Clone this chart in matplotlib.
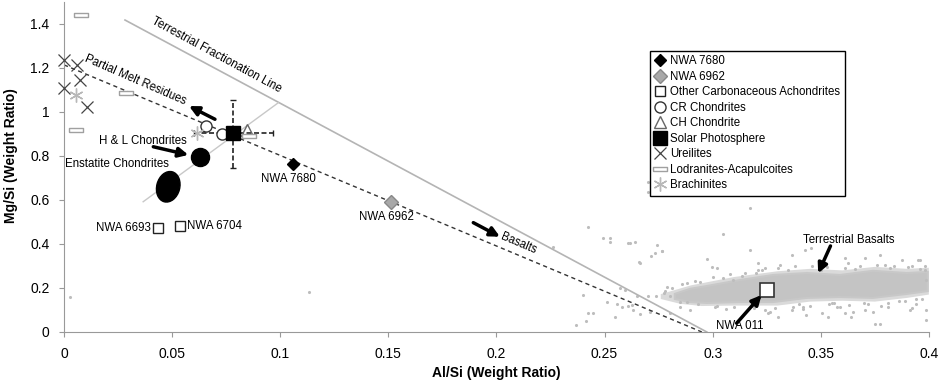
# Mg/Si vs Al/Si diagram
import matplotlib
matplotlib.use('Agg')
import matplotlib.pyplot as plt, numpy as np
import matplotlib.transforms as mtransforms
from matplotlib.patches import Ellipse, Polygon
from matplotlib.ticker import FuncFormatter

plt.rcParams['font.family'] = ['Liberation Sans', 'DejaVu Sans']

# Sample points (Al/Si, Mg/Si)
nwa7680_x, nwa7680_y = [0.106], [0.763]
nwa6962_x, nwa6962_y = [0.151], [0.593]
carb_x, carb_y = [0.0436, 0.0536], [0.471, 0.483]
nwa011_x, nwa011_y = [0.3252], [0.191]
cr_x, cr_y = [0.0657, 0.0729], [0.938, 0.899]
ch_x, ch_y = [0.0848], [0.918]
solar_x, solar_y = [0.0783], [0.906]
solar_xerr = 0.0183
solar_yerr = [[0.162], [0.149]]
ureil_x = [0.0, 0.0059, 0.0074, 0.0, 0.0108]
ureil_y = [1.236, 1.214, 1.145, 1.108, 1.021]
lodr_x = [0.0079, 0.0287, 0.0055, 0.0855]
lodr_y = [1.441, 1.085, 0.918, 0.891]
brach_x, brach_y = [0.0614, 0.0055], [0.903, 1.077]
hl_x, hl_y = [0.0629], [0.797]
enst_x, enst_y = 0.0482, 0.660

# Reference lines
terr_line_x, terr_line_y = [0.0282, 0.2973], [1.418, 0.0]
melt_line_x, melt_line_y = [0.0, 0.295], [1.214, 0.0]
chond_line_x, chond_line_y = [0.0366, 0.0991], [0.592, 1.042]

# Terrestrial basalts: dense core outline, its fainter halo, and scattered points
basalt_core_x = [0.2825, 0.2895, 0.2973, 0.3126, 0.3279, 0.3436, 0.3588, 0.3741, 0.3898, 0.3995,
                 0.3995, 0.3898, 0.3741, 0.3588, 0.3436, 0.3279, 0.3126, 0.2973, 0.2895, 0.2825]
basalt_core_y = [0.173, 0.196, 0.209, 0.236, 0.259, 0.268, 0.259, 0.278, 0.268, 0.273,
                 0.186, 0.173, 0.155, 0.159, 0.155, 0.136, 0.136, 0.132, 0.136, 0.150]
basalt_halo_x = [0.2760, 0.2900, 0.3100, 0.3300, 0.3450, 0.3600, 0.3750, 0.3900, 0.4000,
                 0.4000, 0.3900, 0.3750, 0.3600, 0.3450, 0.3300, 0.3100, 0.2950, 0.2850, 0.2760]
basalt_halo_y = [0.172, 0.212, 0.250, 0.276, 0.287, 0.280, 0.296, 0.287, 0.292,
                 0.170, 0.155, 0.138, 0.142, 0.138, 0.120, 0.120, 0.118, 0.128, 0.150]
basalt_x = [0.2425, 0.2491, 0.2525, 0.2525, 0.2617, 0.2640, 0.2744, 0.2764, 0.2713, 0.2660,
            0.2972, 0.2995, 0.3018, 0.3049, 0.2571, 0.2594, 0.2401, 0.2648, 0.2702, 0.2775,
            0.2802, 0.2510, 0.2559, 0.2610, 0.2633, 0.2664, 0.2425, 0.2448, 0.2548, 0.2414,
            0.2368, 0.2802, 0.2895, 0.2880, 0.2849, 0.3172, 0.3134, 0.3095, 0.3172, 0.3427,
            0.3457, 0.3365, 0.3612, 0.3627, 0.3704, 0.3874, 0.3951, 0.3904, 0.3797, 0.3311,
            0.3241, 0.3211, 0.3981, 0.3989, 0.3365, 0.3419, 0.3550, 0.3612, 0.3704, 0.3750,
            0.3773, 0.3812, 0.3920, 0.3989, 0.3257, 0.3303, 0.3504, 0.3535, 0.3642, 0.2609,
            0.2733, 0.2764, 0.2664, 0.3211, 0.3773, 0.3958, 0.3265, 0.3434, 0.3573, 0.3650,
            0.3743, 0.3912, 0.3989, 0.2579, 0.2625, 0.2710, 0.2700, 0.2700, 0.0028, 0.1134,
            0.2263, 0.2790, 0.2860, 0.2940, 0.3050, 0.3200, 0.3350, 0.3500, 0.3660, 0.3820,
            0.3960, 0.3020, 0.3180, 0.3400, 0.3560, 0.3700, 0.3860, 0.3940,
            0.2810, 0.2880, 0.2920, 0.3000, 0.3080, 0.3150, 0.3230, 0.3300, 0.3380, 0.3460,
            0.3530, 0.3610, 0.3680, 0.3760, 0.3840, 0.3920, 0.3980, 0.2850, 0.2930, 0.3010,
            0.3100, 0.3190, 0.3290, 0.3370, 0.3450, 0.3540, 0.3630, 0.3720, 0.3810, 0.3890,
            0.3970, 0.2780, 0.2740, 0.3060, 0.3240, 0.3420, 0.3590, 0.3780, 0.3940]
basalt_y = [0.476, 0.426, 0.429, 0.408, 0.403, 0.410, 0.395, 0.370, 0.345, 0.317,
            0.330, 0.294, 0.290, 0.445, 0.199, 0.191, 0.168, 0.164, 0.164, 0.179,
            0.164, 0.138, 0.127, 0.118, 0.100, 0.082, 0.085, 0.085, 0.070, 0.050,
            0.032, 0.085, 0.100, 0.138, 0.112, 0.373, 0.255, 0.236, 0.562, 0.373,
            0.380, 0.350, 0.335, 0.312, 0.335, 0.327, 0.327, 0.297, 0.305, 0.305,
            0.290, 0.282, 0.282, 0.236, 0.100, 0.115, 0.130, 0.085, 0.100, 0.036,
            0.036, 0.115, 0.108, 0.100, 0.085, 0.070, 0.085, 0.070, 0.070, 0.403,
            0.358, 0.370, 0.312, 0.312, 0.350, 0.327, 0.092, 0.077, 0.115, 0.092,
            0.092, 0.100, 0.055, 0.115, 0.123, 0.092, 0.683, 0.638, 0.160, 0.183,
            0.385, 0.205, 0.218, 0.225, 0.245, 0.270, 0.282, 0.280, 0.285, 0.290,
            0.288, 0.120, 0.118, 0.128, 0.132, 0.130, 0.140, 0.150,
            0.198, 0.222, 0.232, 0.248, 0.262, 0.268, 0.280, 0.290, 0.298, 0.300,
            0.296, 0.292, 0.300, 0.306, 0.302, 0.300, 0.298, 0.138, 0.125, 0.115,
            0.112, 0.110, 0.108, 0.112, 0.120, 0.125, 0.124, 0.128, 0.134, 0.142,
            0.150, 0.185, 0.165, 0.105, 0.098, 0.105, 0.112, 0.118, 0.128]

fig = plt.figure(figsize=(9.43, 3.83), dpi=100)
ax = fig.add_axes([0.0679, 0.1332, 0.9171, 0.8616])
ax.set_xlim(0, 0.4)
ax.set_ylim(0, 1.5)

# Basalt cloud
ax.add_patch(Polygon(np.column_stack([basalt_halo_x, basalt_halo_y]), closed=True,
                     facecolor='#dadada', edgecolor='none', zorder=1))
ax.add_patch(Polygon(np.column_stack([basalt_core_x, basalt_core_y]), closed=True,
                     facecolor='#c4c4c4', edgecolor='#c8c8c8', lw=1.5, zorder=1))
ax.scatter(basalt_x, basalt_y, s=5, color='#bdbdbd', lw=0, zorder=1)

# Lines
ax.plot(terr_line_x, terr_line_y, color='#b4b4b4', lw=1.2, zorder=2)
ax.plot(melt_line_x, melt_line_y, color='#333333', lw=1, ls=(0, (3, 2.5)), zorder=2)
ax.plot(chond_line_x, chond_line_y, color='#c8c8c8', lw=1, zorder=2)

# Error bars on solar photosphere
eb = ax.errorbar(solar_x, solar_y, xerr=solar_xerr, yerr=solar_yerr, fmt='none',
                 ecolor='#222222', elinewidth=1.2, capsize=2.5, capthick=1, zorder=3)
for lc in eb[2]:
    lc.set_linestyle((0, (3, 1.5)))

# Enstatite chondrites ellipse (drawn in inches about a data point)
tr = fig.dpi_scale_trans + mtransforms.ScaledTranslation(enst_x, enst_y, ax.transData)
ax.add_patch(Ellipse((0, 0), 0.23, 0.31, angle=-15, transform=tr, color='black', zorder=4))
ax.plot(hl_x, hl_y, 'o', color='black', ms=13, zorder=4)

# Markers
lodr_marker = [(-1, -0.28), (1, -0.28), (1, 0.28), (-1, 0.28), (-1, -0.28)]
ax.plot(nwa7680_x, nwa7680_y, 'D', color='black', ms=6.5, ls='none', label='NWA 7680', zorder=5)
ax.plot(nwa6962_x, nwa6962_y, 'D', mfc='#a8a8a8', mec='#888888', ms=7.5, ls='none', label='NWA 6962', zorder=5)
ax.plot(carb_x, carb_y, 's', mfc='white', mec='#222222', ms=7.5, mew=1, ls='none',
        label='Other Carbonaceous Achondrites', zorder=5)
ax.plot(cr_x, cr_y, 'o', mfc='white', mec='#333333', ms=8, mew=1, ls='none', label='CR Chondrites', zorder=5)
ax.plot(ch_x, ch_y, '^', mfc='none', mec='#666666', ms=9, mew=1, ls='none', label='CH Chondrite', zorder=5)
ax.plot(solar_x, solar_y, 's', color='black', ms=9.5, ls='none', label='Solar Photosphere', zorder=6)
ax.plot(ureil_x, ureil_y, 'x', color='#444444', ms=9, mew=0.9, ls='none', label='Ureilites', zorder=5, clip_on=False)
ax.plot(lodr_x, lodr_y, marker=lodr_marker, mfc='white', mec='#a0a0a0', ms=10, mew=1, ls='none',
        label='Lodranites-Acapulcoites', zorder=5)
ax.plot(brach_x, brach_y, marker=(6, 2, 0), color='#b8b8b8', ms=10, mew=1, ls='none',
        label='Brachinites', zorder=5)
ax.plot(nwa011_x, nwa011_y, 's', mfc='white', mec='#333333', ms=9.5, mew=1.2, ls='none', zorder=6)

# Arrows
arrows = [((0.0578, 1.027), (0.0698, 0.967)),
          ((0.0575, 0.805), (0.0413, 0.842)),
          ((0.2016, 0.433), (0.1893, 0.497)),
          ((0.3226, 0.168), (0.3111, 0.040)),
          ((0.3488, 0.267), (0.3545, 0.391))]
for head, tail in arrows:
    ax.annotate('', xy=head, xytext=tail,
                arrowprops=dict(arrowstyle='-|>', lw=2.5, color='black', mutation_scale=14,
                                shrinkA=0, shrinkB=0), zorder=7)

# Labels
fs = 8.3
ax.text(0.0706, 1.259, 'Terrestrial Fractionation Line', fontsize=fs, rotation=-28.5,
        ha='center', va='center', rotation_mode='anchor')
ax.text(0.0328, 1.145, 'Partial Melt Residues', fontsize=fs, rotation=-23.5,
        ha='center', va='center', rotation_mode='anchor')
ax.text(0.2101, 0.400, 'Basalts', fontsize=fs, rotation=-23,
        ha='center', va='center', rotation_mode='anchor')
ax.text(0.0364, 0.868, 'H & L Chondrites', fontsize=fs, ha='center', va='center')
ax.text(0.0244, 0.762, 'Enstatite Chondrites', fontsize=fs, ha='center', va='center')
ax.text(0.1037, 0.694, 'NWA 7680', fontsize=fs, ha='center', va='center')
ax.text(0.1492, 0.521, 'NWA 6962', fontsize=fs, ha='center', va='center')
ax.text(0.0400, 0.471, 'NWA 6693', fontsize=fs, ha='right', va='center')
ax.text(0.0567, 0.483, 'NWA 6704', fontsize=fs, ha='left', va='center')
ax.text(0.3126, 0.027, 'NWA 011', fontsize=fs, ha='center', va='center')
ax.text(0.3630, 0.418, 'Terrestrial Basalts', fontsize=fs, ha='center', va='center')

# Axes styling
for s in ['top', 'right']:
    ax.spines[s].set_visible(False)
for s in ['left', 'bottom']:
    ax.spines[s].set_color('#999999')
ax.set_xticks(np.arange(0, 0.401, 0.05))
ax.set_yticks(np.arange(0, 1.41, 0.2))
fmt = FuncFormatter(lambda v, p: '%g' % round(v, 3))
ax.xaxis.set_major_formatter(fmt)
ax.yaxis.set_major_formatter(fmt)
ax.tick_params(direction='out', length=3.5, color='#999999', labelsize=10, pad=7)
ax.set_xlabel('Al/Si (Weight Ratio)', fontsize=10, fontweight='bold', labelpad=4)
ax.set_ylabel('Mg/Si (Weight Ratio)', fontsize=10, fontweight='bold')
ax.yaxis.set_label_coords(-0.053, 0.536)

leg = ax.legend(loc='upper left', bbox_to_anchor=(0.677, 0.852), borderaxespad=0,
                fontsize=8.3, frameon=True, fancybox=False, framealpha=1, edgecolor='black',
                handlelength=1.0, handletextpad=0.4, labelspacing=0.3, borderpad=0.4,
                numpoints=1)
leg.get_frame().set_linewidth(1)

fig.savefig('out.png', dpi=100)
